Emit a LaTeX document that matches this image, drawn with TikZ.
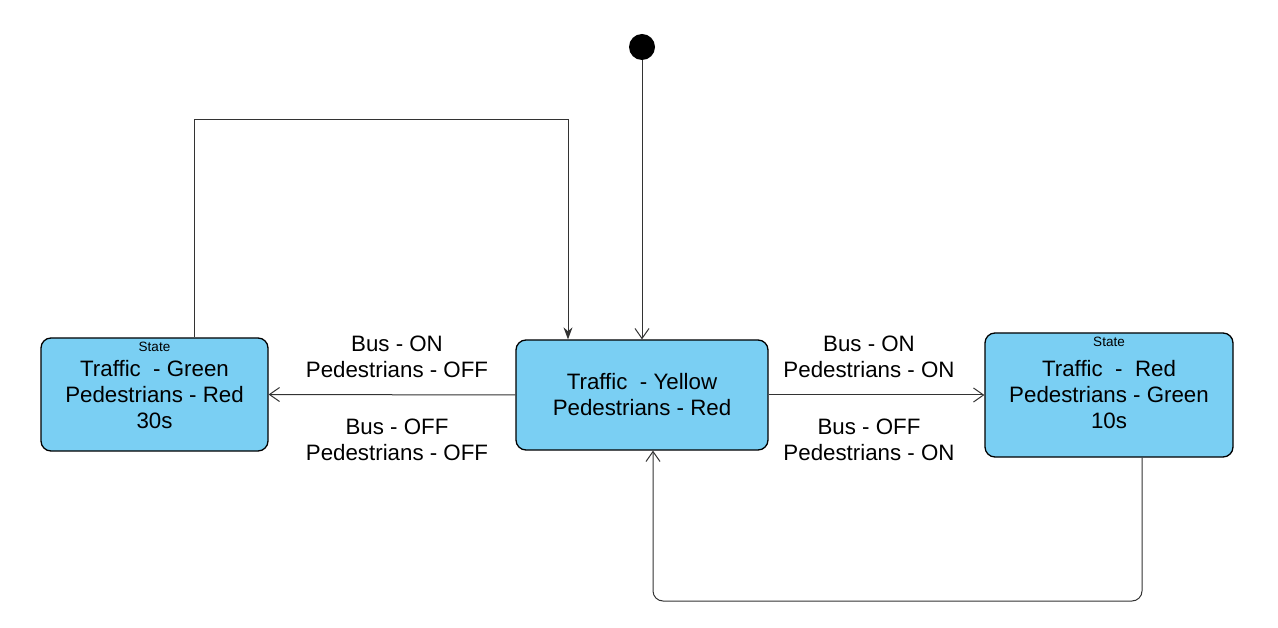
\documentclass[tikz,border=0pt]{standalone}
\usepackage{fontspec}
\setmainfont{Liberation Sans}
\usetikzlibrary{arrows.meta}
\definecolor{stfill}{RGB}{122,207,243}
\tikzset{
  statebox/.style={draw=black, line width=1.3pt, fill=stfill, rounded corners=10pt,
    align=center, font=\fontsize{22.3}{26}\selectfont, inner sep=0pt},
  statelbl/.style={label={[anchor=north, inner sep=0pt, yshift=-5pt, font=\fontsize{13.5}{16}\selectfont]north:State}},
  conn/.style={draw=black!80, line width=1pt},
  openarr/.style={-{Straight Barb[length=10pt,width=14pt,line width=1pt]}},
  filledarr/.style={-{Stealth[length=12pt,width=9pt]}},
  edgelbl/.style={align=center, font=\fontsize{22.3}{26.5}\selectfont, inner sep=0pt},
}
\begin{document}
\begin{tikzpicture}[x=1pt,y=-1pt]
\useasboundingbox (0,0) rectangle (1278,628);
\node[statebox, statelbl, minimum width=227pt, minimum height=113pt] (left) at (154.5,394.5)
  {Traffic\ \ - Green\\Pedestrians - Red\\30s};
\node[statebox, minimum width=252pt, minimum height=110pt] (mid) at (642,395)
  {Traffic\ \ - Yellow\\Pedestrians - Red};
\node[statebox, statelbl, minimum width=248pt, minimum height=124pt] (right) at (1109,395)
  {Traffic\ \ -\ \ Red\\Pedestrians - Green\\10s};
\node[circle, fill=black, minimum size=26pt, inner sep=0pt] (init) at (642,47) {};

\coordinate (t1) at (194,120);
\coordinate (t2) at (568,120);
\coordinate (b1) at (1142,601);
\coordinate (b2) at (653,601);

\draw[conn, openarr] (init.south) -- (mid.north);
\draw[conn, filledarr] ([xshift=39.5pt]left.north) -- (t1) -- (t2) -- ([xshift=-74pt]mid.north);
\draw[conn, openarr] (mid.west) -- (left.east);
\draw[conn, openarr] (mid.east) -- (right.west);
\draw[conn, openarr, rounded corners=10pt] ([xshift=33pt]right.south) -- (b1) -- (b2) -- ([xshift=11pt]mid.south);

\node[edgelbl] (l1) at (397,357) {Bus - ON\\Pedestrians - OFF};
\node[edgelbl] (l2) at (397,440) {Bus - OFF\\Pedestrians - OFF};
\node[edgelbl] (l3) at (869,357) {Bus - ON\\Pedestrians - ON};
\node[edgelbl] (l4) at (869,440) {Bus - OFF\\Pedestrians - ON};
\end{tikzpicture}
\end{document}
